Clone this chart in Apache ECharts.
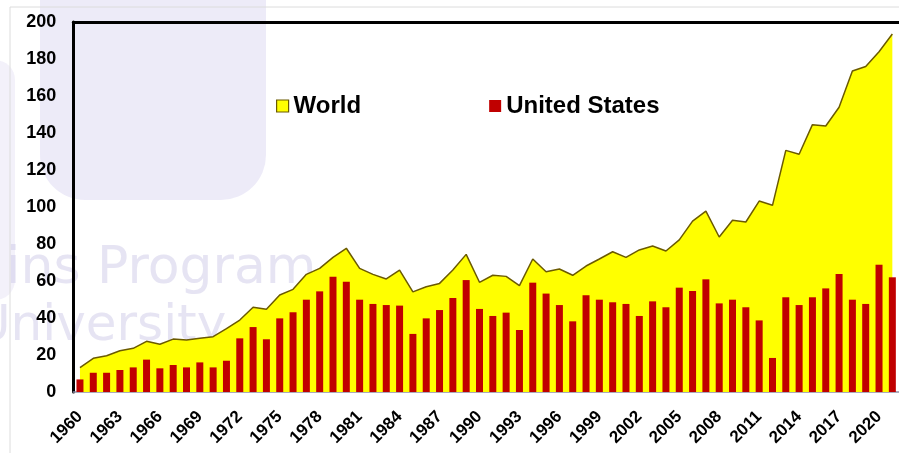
<!DOCTYPE html>
<html>
<head>
<meta charset="utf-8">
<script src="https://cdn.jsdelivr.net/npm/echarts@6/dist/echarts.min.js"></script>
<style>
html,body{margin:0;padding:0;background:#fff;}
#chart{width:899px;height:453px;}
</style>
</head>
<body>
<div id="chart"></div>
<script>
var years = ['1960','1961','1962','1963','1964','1965','1966','1967','1968','1969',
'1970','1971','1972','1973','1974','1975','1976','1977','1978','1979',
'1980','1981','1982','1983','1984','1985','1986','1987','1988','1989',
'1990','1991','1992','1993','1994','1995','1996','1997','1998','1999',
'2000','2001','2002','2003','2004','2005','2006','2007','2008','2009',
'2010','2011','2012','2013','2014','2015','2016','2017','2018','2019',
'2020','2021'];

var world = [13.2,18.2,19.6,22.3,23.6,27.4,25.8,28.6,28.1,29.0,
29.9,34.2,38.9,45.8,44.7,52.4,55.5,63.6,66.8,72.8,
77.7,66.8,63.6,61.1,65.9,54.1,56.9,58.7,65.9,74.4,
59.3,63.1,62.5,57.5,71.9,65.0,66.5,63.1,68.1,71.9,
75.8,72.8,76.8,78.9,76.2,82.2,92.4,97.8,83.8,92.8,
91.9,103.2,100.9,130.6,128.5,144.5,143.8,153.9,173.5,175.9,
183.9,193.5];

var unitedStates = [6.8,10.4,10.4,11.9,13.3,17.5,12.8,14.6,13.3,16.0,
13.3,16.9,29.0,35.1,28.5,39.8,43.1,49.9,54.4,62.3,
59.6,49.9,47.6,47.0,46.7,31.4,39.8,44.3,50.8,60.5,
44.9,41.1,42.9,33.5,59.1,53.2,47.0,38.2,52.3,49.9,
48.5,47.6,41.1,49.0,45.8,56.4,54.6,60.9,47.9,49.9,
45.8,38.7,18.4,51.2,47.0,51.2,56.0,63.8,49.9,47.6,
68.8,62.0];

var seriesNames = ['World', 'United States'];

var chart = echarts.init(document.getElementById('chart'), null, {renderer:'canvas'});
var FONT = 'Liberation Sans, Arial, sans-serif';
var option = {
  animation: false,
  backgroundColor: '#ffffff',
  textStyle: {fontFamily: FONT},
  graphic: [
    {type:'rect', z:-10, shape:{x:40, y:-60, width:226, height:260, r:[0,0,45,45]}, style:{fill:'rgba(215,210,240,0.45)'}},
    {type:'rect', z:-10, shape:{x:-30, y:60, width:45, height:240, r:20}, style:{fill:'rgba(215,210,240,0.3)'}},
    {type:'text', z:-9, x:6, y:243, style:{text:'ins Program', font:'52px "DejaVu Sans"', fill:'rgba(205,202,232,0.5)'}},
    {type:'text', z:-9, x:-26, y:302, style:{text:'University', font:'50px "DejaVu Sans"', fill:'rgba(205,202,232,0.5)'}},
    {type:'rect', z:-8, shape:{x:10, y:7, width:1000, height:1000}, style:{fill:'none', stroke:'#dcdcdc', lineWidth:1}}
  ],
  legend: {
    left: 271,
    top: 89,
    itemGap: 128,
    itemWidth: 12,
    itemHeight: 12,
    textStyle: {fontSize: 24, fontWeight: 'bold', color: '#000', fontFamily: FONT},
    data: [
      {name: seriesNames[0], icon: 'rect', itemStyle: {color: '#ffff00', borderColor: '#6b5a00', borderWidth: 1.2}},
      {name: seriesNames[1], icon: 'rect', itemStyle: {color: '#c00000', borderWidth: 0}}
    ]
  },
  grid: {left: 73.3, top: 22, width: 832.4, height: 370, containLabel: false},
  xAxis: [
    {
      type: 'category',
      data: years,
      boundaryGap: true,
      axisLine: {show: true, lineStyle: {color: '#8e8ea6', width: 1.5}},
      axisTick: {show: false},
      axisLabel: {interval: 2, rotate: 45, fontSize: 17, fontWeight: 'bold', color: '#000', margin: 22, fontFamily: FONT},
      splitLine: {show: false}
    },
    {
      type: 'category',
      data: years,
      position: 'top',
      axisLine: {show: true, lineStyle: {color: '#000', width: 3}},
      axisTick: {show: false},
      axisLabel: {show: false}
    }
  ],
  yAxis: {
    type: 'value',
    min: 0,
    max: 200,
    interval: 20,
    axisLine: {show: true, lineStyle: {color: '#000', width: 3}},
    axisTick: {show: false},
    splitLine: {show: false},
    axisLabel: {fontSize: 18, fontWeight: 'bold', color: '#000', margin: 17, fontFamily: FONT}
  },
  series: [
    {
      name: seriesNames[0],
      type: 'line',
      data: world,
      symbol: 'none',
      z: 1,
      itemStyle: {color: '#ffff00'},
      lineStyle: {color: '#6b5a00', width: 1.5},
      areaStyle: {color: '#ffff00', opacity: 1}
    },
    {
      name: seriesNames[1],
      type: 'bar',
      data: unitedStates,
      barWidth: 7,
      z: 2,
      itemStyle: {color: '#c00000'}
    }
  ]
};
chart.setOption(option);
</script>
</body>
</html>
